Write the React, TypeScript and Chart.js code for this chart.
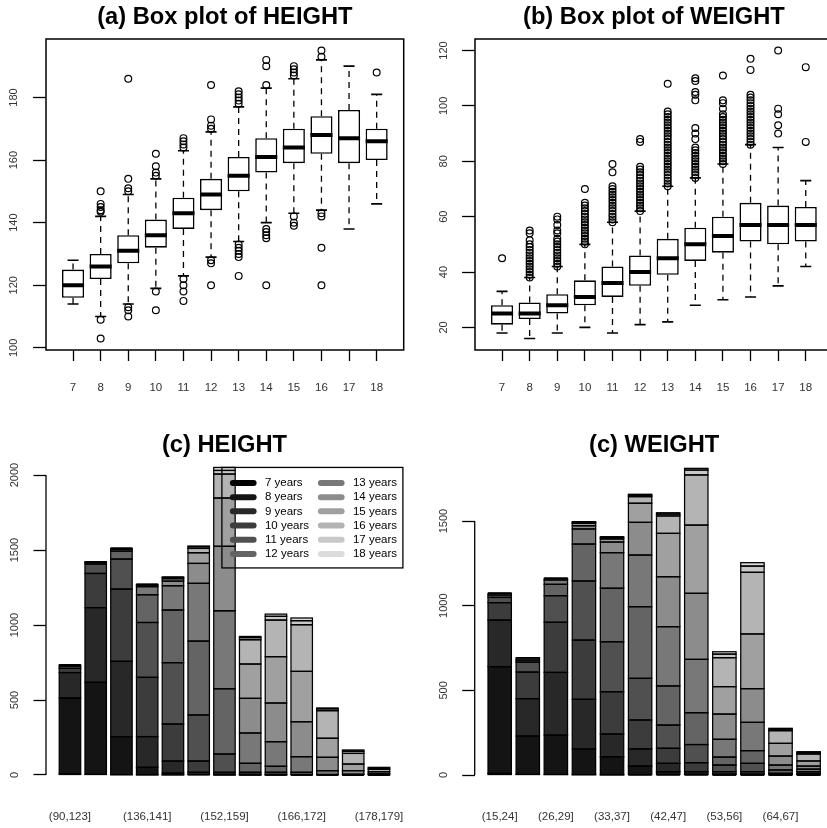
import React, { useEffect, useRef } from "react";
import { Chart, registerables } from "chart.js";

Chart.register(...registerables);

// ---------------- data ----------------
const AGES = ["7", "8", "9", "10", "11", "12", "13", "14", "15", "16", "17", "18"];
const AGE_LABELS = AGES.map((a) => `${a} years`);

// (a) HEIGHT box plot statistics by age
const H_LOW = [114, 110, 114, 119, 123, 129, 134, 140, 143, 144, 138, 146];
const H_Q1 = [116, 122, 127, 132, 138, 144, 150, 156, 159, 162, 159, 160];
const H_MED = [120, 126, 131, 136, 143, 149, 155, 161, 164, 168, 167, 166];
const H_Q3 = [125, 130, 136, 141, 148, 154, 161, 167, 170, 174, 176, 170];
const H_HIGH = [128, 142, 149, 154, 163, 169, 177, 183, 186, 192, 190, 181];
const H_OUTLIERS: number[][] = [
  [],
  [150, 146, 145, 144, 143.5, 109, 103],
  [186, 154, 151, 150, 113, 112, 110],
  [162, 158, 156, 155, 118, 112],
  [167, 166, 165, 164, 122, 120, 118, 115],
  [184, 173, 171, 170, 128, 127, 120],
  [182, 181, 180, 179, 178, 133, 132, 131, 130, 129, 123],
  [192, 190, 184, 138, 137, 136, 135, 120],
  [190, 189, 188, 187, 142, 140, 139],
  [195, 193, 143, 142, 132, 120],
  [],
  [188],
];

// (b) WEIGHT box plot statistics by age
const W_LOW = [18, 16, 18, 20, 18, 21, 22, 28, 30, 31, 35, 42];
const W_Q1 = [21, 23, 25, 28, 31, 35, 39, 44, 47, 51, 50, 51];
const W_MED = [25, 25, 28, 31, 36, 40, 45, 50, 53, 57, 57, 57];
const W_Q3 = [28, 29, 32, 37, 42, 46, 52, 56, 60, 65, 64, 63.5];
const W_HIGH = [33, 38, 42, 50, 58, 62, 71, 74, 79, 86, 85, 73];
const W_OUTLIERS: number[][] = [
  [45],
  [38, 39, 40, 41, 42, 43, 44, 45, 46, 47, 48, 49, 50, 51.5, 54, 55],
  [42, 43, 44, 45, 46, 47, 48, 49, 50, 51, 52, 54, 55, 57, 59, 60],
  [50, 51, 52, 53, 54, 55, 56, 57, 58, 59, 60, 61, 62, 63, 64, 65, 70],
  [58, 59, 60, 61, 62, 63, 64, 65, 66, 67, 68, 69, 70, 71, 76, 79],
  [62, 63, 64, 65, 66, 67, 68, 69, 70, 71, 72, 73, 74, 75, 76, 77, 78, 87, 88],
  [71, 72, 73, 74, 75, 76, 77, 78, 79, 80, 81, 82, 83, 84, 85, 86, 87, 88, 89, 90, 91, 92, 93, 94, 95, 96, 97, 98, 108],
  [74, 75, 76, 77, 78, 79, 80, 81, 82, 83, 84, 85, 88, 90, 92, 102, 104, 105, 109, 110],
  [79, 80, 81, 82, 83, 84, 85, 86, 87, 88, 89, 90, 91, 92, 93, 94, 95, 96, 97, 99, 101, 102, 111],
  [86, 87, 88, 89, 90, 91, 92, 93, 94, 95, 96, 97, 98, 99, 100, 101, 102, 103, 104, 113, 117],
  [90, 93, 97, 99, 120],
  [87, 114],
];

// (c) HEIGHT bins and counts by age
const HEIGHT_BINS = [
  "(90,123]", "(123,130]", "(130,136]", "(136,141]", "(141,146]", "(146,152]", "(152,159]",
  "(159,163]", "(163,166]", "(166,172]", "(172,175]", "(175,178]", "(178,179]",
];
const H_AGE7 = [8, 4, 2, 1, 1, 0, 0, 0, 0, 0, 0, 0, 0];
const H_AGE8 = [505, 614, 254, 50, 12, 3, 1, 0, 0, 0, 0, 0, 0];
const H_AGE9 = [170, 498, 502, 205, 80, 15, 3, 1, 1, 0, 0, 0, 0];
const H_AGE10 = [28, 228, 482, 395, 247, 75, 14, 3, 2, 0, 0, 0, 0];
const H_AGE11 = [15, 63, 200, 366, 409, 307, 122, 14, 15, 3, 0, 0, 0];
const H_AGE12 = [7, 10, 53, 185, 351, 493, 435, 60, 40, 15, 3, 0, 0];
const H_AGE13 = [0, 5, 12, 54, 162, 385, 520, 202, 164, 104, 26, 5, 2];
const H_AGE14 = [0, 0, 6, 10, 31, 133, 430, 231, 258, 233, 89, 24, 8];
const H_AGE15 = [0, 0, 0, 5, 16, 71, 322, 229, 309, 336, 127, 44, 12];
const H_AGE16 = [0, 0, 0, 0, 8, 29, 160, 162, 244, 311, 184, 71, 16];
const H_AGE17 = [0, 0, 0, 0, 3, 11, 24, 14, 25, 27, 12, 14, 8];
const H_AGE18 = [0, 0, 0, 0, 0, 5, 20, 8, 15, 18, 6, 9, 5];

// (c) WEIGHT bins and counts by age
const WEIGHT_BINS = [
  "(15,24]", "(24,26]", "(26,29]", "(29,33]", "(33,37]", "(37,42]",
  "(42,47]", "(47,53]", "(53,56]", "(56,64]", "(64,67]", "(67,120]",
];
const W_AGE7 = [10, 4, 3, 2, 1, 0, 0, 0, 0, 0, 0, 0];
const W_AGE8 = [630, 226, 233, 152, 107, 53, 20, 5, 0, 0, 0, 0];
const W_AGE9 = [275, 221, 370, 293, 134, 101, 49, 15, 5, 5, 0, 0];
const W_AGE10 = [103, 157, 296, 350, 250, 171, 89, 53, 15, 15, 3, 4];
const W_AGE11 = [31, 59, 157, 349, 295, 246, 137, 107, 39, 49, 7, 6];
const W_AGE12 = [14, 12, 67, 218, 316, 423, 231, 188, 47, 75, 20, 10];
const W_AGE13 = [10, 14, 26, 89, 210, 305, 350, 315, 105, 167, 29, 15];
const W_AGE14 = [0, 0, 9, 19, 63, 193, 295, 390, 149, 199, 53, 18];
const W_AGE15 = [0, 0, 0, 14, 18, 113, 256, 403, 162, 323, 75, 30];
const W_AGE16 = [0, 0, 0, 6, 8, 39, 103, 296, 171, 364, 75, 41];
const W_AGE17 = [0, 0, 0, 4, 5, 8, 11, 29, 21, 37, 9, 8];
const W_AGE18 = [0, 0, 0, 0, 0, 6, 8, 10, 14, 20, 5, 6];

const H_TICKS = [100, 120, 140, 160, 180];
const W_TICKS = [20, 40, 60, 80, 100, 120];
const HC_TICKS = [0, 500, 1000, 1500, 2000];
const WC_TICKS = [0, 500, 1000, 1500];

// ---------------- styles ----------------
const FONT = '"Liberation Sans", Arial, Helvetica, sans-serif';
const GREYS = [
  "#000000", "#141414", "#282828", "#3c3c3c", "#505050", "#646464",
  "#787878", "#8c8c8c", "#a0a0a0", "#b4b4b4", "#c8c8c8", "#dcdcdc",
];

const framePlugin = {
  id: "frameBox",
  afterDraw(chart: any) {
    const { ctx, chartArea: a } = chart;
    ctx.save();
    ctx.strokeStyle = "#000";
    ctx.lineWidth = 1.5;
    ctx.strokeRect(a.left, a.top, a.right - a.left, a.bottom - a.top);
    ctx.restore();
  },
};

const axisLinePlugin = {
  id: "axisLine",
  afterDraw(chart: any) {
    const { ctx, chartArea: a } = chart;
    const y = chart.scales.y;
    const t = y.ticks;
    ctx.save();
    ctx.strokeStyle = "#000";
    ctx.lineWidth = 1.3;
    ctx.beginPath();
    ctx.moveTo(a.left, y.getPixelForValue(t[0].value));
    ctx.lineTo(a.left, y.getPixelForValue(t[t.length - 1].value));
    ctx.stroke();
    ctx.restore();
  },
};

// outline every stacked segment (R style: border drawn even on very thin segments)
const outlinePlugin = {
  id: "segOutline",
  afterDatasetsDraw(chart: any) {
    const ctx = chart.ctx;
    ctx.save();
    ctx.strokeStyle = "#000";
    ctx.lineWidth = 1.25;
    chart.data.datasets.forEach((_d: any, di: number) => {
      const meta = chart.getDatasetMeta(di);
      meta.data.forEach((el: any) => {
        const { x, y, base, width } = el.getProps(["x", "y", "base", "width"], true);
        const top = Math.min(y, base);
        const h = Math.abs(base - y);
        ctx.strokeRect(x - width / 2, top, width, h);
      });
    });
    ctx.restore();
  },
};

const legendPlugin = {
  id: "ageLegend",
  afterDatasetsDraw(chart: any) {
    const { ctx, chartArea: a } = chart;
    const ds = chart.data.datasets;
    const n = ds[0].data.length;
    const totals: number[] = [];
    for (let i = 0; i < n; i++) {
      let s = 0;
      ds.forEach((d: any) => (s += d.data[i].y));
      totals.push(s);
    }
    const top = chart.scales.y.getPixelForValue(Math.max(...totals));
    const w = 181;
    const h = 100.5;
    const left = a.right - w;
    ctx.save();
    ctx.strokeStyle = "#000";
    ctx.lineWidth = 1.3;
    ctx.strokeRect(left, top, w, h);
    ctx.font = `11.5px ${FONT}`;
    ctx.textBaseline = "middle";
    ctx.textAlign = "left";
    ds.forEach((d: any, k: number) => {
      const col = Math.floor(k / 6);
      const row = k % 6;
      const y = top + 15.5 + row * 14.2;
      const sx = left + 11 + col * 88;
      ctx.lineCap = "round";
      ctx.lineWidth = 6;
      ctx.strokeStyle = d.backgroundColor;
      ctx.beginPath();
      ctx.moveTo(sx, y);
      ctx.lineTo(sx + 20.7, y);
      ctx.stroke();
      ctx.fillStyle = "#000";
      ctx.fillText(d.label, left + 43 + col * 88, y);
    });
    ctx.restore();
  },
};

function titleOpts(text: string, top: number, bottom: number) {
  return {
    display: true,
    text,
    fullSize: false,
    color: "#000",
    font: { family: FONT, size: 23.7, weight: "bold", lineHeight: "19px" },
    padding: { top, bottom },
  };
}

function boxDatasets(lo: number[], q1: number[], med: number[], q3: number[], hi: number[], outs: number[][]) {
  const xs = lo.map((_, i) => i + 1);
  const whisk: any[] = [];
  const caps: any[] = [];
  const meds: any[] = [];
  const pts: any[] = [];
  xs.forEach((x, i) => {
    whisk.push({ x, y: q3[i] }, { x, y: hi[i] }, { x, y: null }, { x, y: q1[i] }, { x, y: lo[i] }, { x, y: null });
    caps.push(
      { x: x - 0.2, y: hi[i] }, { x: x + 0.2, y: hi[i] }, { x, y: null },
      { x: x - 0.2, y: lo[i] }, { x: x + 0.2, y: lo[i] }, { x, y: null }
    );
    meds.push({ x: x - 0.4, y: med[i] }, { x: x + 0.4, y: med[i] }, { x, y: null });
    outs[i].forEach((v) => pts.push({ x, y: v }));
  });
  return [
    {
      type: "bar",
      data: xs.map((x, i) => ({ x, y: [q1[i], q3[i]] })),
      backgroundColor: "#ffffff",
      borderColor: "#000",
      borderWidth: 1.6,
      borderSkipped: false,
      barPercentage: 1,
      categoryPercentage: 0.8,
      order: 2,
    },
    { type: "line", data: whisk, borderColor: "#000", borderWidth: 1.3, borderDash: [6, 5], pointRadius: 0, spanGaps: false, fill: false, order: 4 },
    { type: "line", data: caps, borderColor: "#000", borderWidth: 1.6, pointRadius: 0, spanGaps: false, fill: false, order: 3 },
    { type: "line", data: meds, borderColor: "#000", borderWidth: 4, borderCapStyle: "butt", pointRadius: 0, spanGaps: false, fill: false, order: 1 },
    {
      type: "line",
      data: pts,
      showLine: false,
      pointRadius: 3.4,
      pointBorderWidth: 1.2,
      pointBorderColor: "#000",
      pointBackgroundColor: "rgba(0,0,0,0)",
      order: 0,
    },
  ];
}

const noPad = (s: any) => {
  s.paddingLeft = 0;
  s.paddingRight = 0;
};

function boxConfig(p: any): any {
  return {
    type: "bar",
    data: { datasets: boxDatasets(p.lo, p.q1, p.med, p.q3, p.hi, p.outs) },
    options: {
      responsive: false,
      animation: false,
      events: [],
      layout: { padding: { left: 0, top: 0, right: p.padRight, bottom: 0 } },
      plugins: {
        legend: { display: false },
        tooltip: { enabled: false },
        title: titleOpts(p.title, p.tTop, p.tBottom),
      },
      scales: {
        x: {
          type: "linear",
          min: 0.02,
          max: 12.98,
          offset: false,
          afterBuildTicks: (s: any) => {
            s.ticks = AGES.map((_, i) => ({ value: i + 1 }));
          },
          afterFit: (s: any) => {
            s.height = p.xHeight;
            noPad(s);
          },
          ticks: {
            autoSkip: false,
            minRotation: 0,
            maxRotation: 0,
            padding: 20.4,
            color: "#333",
            font: { family: FONT, size: 11.5 },
            callback: (_v: any, i: number) => AGES[i],
          },
          grid: { display: true, drawOnChartArea: false, drawTicks: true, tickLength: 11, tickColor: "#000", tickWidth: 1.3, offset: false },
          border: { display: false },
        },
        y: {
          type: "linear",
          min: p.yMin,
          max: p.yMax,
          beginAtZero: false,
          afterBuildTicks: (s: any) => {
            s.ticks = p.yTicks.map((v: number) => ({ value: v }));
          },
          afterFit: (s: any) => {
            s.width = p.yWidth;
          },
          ticks: {
            autoSkip: false,
            minRotation: 90,
            maxRotation: 90,
            crossAlign: "center",
            padding: p.yPad,
            color: "#333",
            font: { family: FONT, size: 11 },
            callback: (v: any) => String(v),
          },
          grid: { display: true, drawOnChartArea: false, drawTicks: true, tickLength: 13, tickColor: "#000", tickWidth: 1.3 },
          border: { display: false },
        },
      },
    },
    plugins: [framePlugin],
  };
}

function barConfig(p: any): any {
  const centers = p.bins.map((_: string, i: number) => 0.7 + 1.2 * i);
  const datasets = p.series.map((arr: number[], k: number) => ({
    type: "bar",
    label: AGE_LABELS[k],
    data: arr.map((v, i) => ({ x: centers[i], y: v })),
    backgroundColor: GREYS[k],
    borderWidth: 0,
    barPercentage: 1,
    categoryPercentage: 1 / 1.2,
  }));
  return {
    type: "bar",
    data: { datasets },
    options: {
      responsive: false,
      animation: false,
      events: [],
      layout: { padding: { left: 0, top: 0, right: p.padRight, bottom: 0 } },
      plugins: {
        legend: { display: false },
        tooltip: { enabled: false },
        title: titleOpts(p.title, p.tTop, p.tBottom),
      },
      scales: {
        x: {
          type: "linear",
          stacked: true,
          min: p.xMin,
          max: p.xMax,
          offset: false,
          afterBuildTicks: (s: any) => {
            s.ticks = centers.map((c: number) => ({ value: c }));
          },
          afterFit: (s: any) => {
            s.height = p.xHeight;
            noPad(s);
          },
          ticks: {
            autoSkip: false,
            minRotation: 0,
            maxRotation: 0,
            padding: p.xPad,
            color: "#333",
            font: { family: FONT, size: 11.5 },
            callback: (_v: any, i: number) => (i % p.every === 0 ? p.bins[i] : ""),
          },
          grid: { display: false, drawTicks: false, offset: false },
          border: { display: false },
        },
        y: {
          type: "linear",
          stacked: true,
          min: p.yMin,
          max: p.yMax,
          beginAtZero: false,
          afterBuildTicks: (s: any) => {
            s.ticks = p.yTicks.map((v: number) => ({ value: v }));
          },
          afterFit: (s: any) => {
            s.width = p.yWidth;
          },
          ticks: {
            autoSkip: false,
            minRotation: 90,
            maxRotation: 90,
            crossAlign: "center",
            padding: p.yPad,
            color: "#333",
            font: { family: FONT, size: 11 },
            callback: (v: any) => String(v),
          },
          grid: { display: true, drawOnChartArea: false, drawTicks: true, tickLength: 12.5, tickColor: "#000", tickWidth: 1.3 },
          border: { display: false },
        },
      },
    },
    plugins: p.legend ? [outlinePlugin, axisLinePlugin, legendPlugin] : [outlinePlugin, axisLinePlugin],
  };
}

export default function App() {
  const aRef = useRef<HTMLCanvasElement>(null);
  const bRef = useRef<HTMLCanvasElement>(null);
  const cRef = useRef<HTMLCanvasElement>(null);
  const dRef = useRef<HTMLCanvasElement>(null);

  useEffect(() => {
    const charts = [
      new Chart(
        aRef.current as HTMLCanvasElement,
        boxConfig({
          title: "(a) Box plot of HEIGHT",
          lo: H_LOW, q1: H_Q1, med: H_MED, q3: H_Q3, hi: H_HIGH, outs: H_OUTLIERS,
          yMin: 99.32, yMax: 198.68, yTicks: H_TICKS,
          padRight: 9.3, xHeight: 64, yWidth: 46, yPad: 10, tTop: 8, tBottom: 12,
        })
      ),
      new Chart(
        bRef.current as HTMLCanvasElement,
        boxConfig({
          title: "(b) Box plot of WEIGHT",
          lo: W_LOW, q1: W_Q1, med: W_MED, q3: W_Q3, hi: W_HIGH, outs: W_OUTLIERS,
          yMin: 11.84, yMax: 124.16, yTicks: W_TICKS,
          padRight: 10.2, xHeight: 64, yWidth: 62, yPad: 9.1, tTop: 8, tBottom: 12,
        })
      ),
      new Chart(
        cRef.current as HTMLCanvasElement,
        barConfig({
          title: "(c) HEIGHT",
          bins: HEIGHT_BINS,
          series: [H_AGE7, H_AGE8, H_AGE9, H_AGE10, H_AGE11, H_AGE12, H_AGE13, H_AGE14, H_AGE15, H_AGE16, H_AGE17, H_AGE18],
          every: 3,
          xMin: -0.416, xMax: 16.216,
          yMin: -103.4, yMax: 2133.9, yTicks: HC_TICKS,
          padRight: 10.1, xHeight: 37.5, xPad: 19.9, yWidth: 46, yPad: 6.6, tTop: 21.8, tBottom: 0.2,
          legend: true,
        })
      ),
      new Chart(
        dRef.current as HTMLCanvasElement,
        barConfig({
          title: "(c) WEIGHT",
          bins: WEIGHT_BINS,
          series: [W_AGE7, W_AGE8, W_AGE9, W_AGE10, W_AGE11, W_AGE12, W_AGE13, W_AGE14, W_AGE15, W_AGE16, W_AGE17, W_AGE18],
          every: 2,
          xMin: -0.368, xMax: 14.968,
          yMin: -91.3, yMax: 1884.2, yTicks: WC_TICKS,
          padRight: 9.4, xHeight: 37.5, xPad: 19.9, yWidth: 61.7, yPad: 6.1, tTop: 21.8, tBottom: 1.15,
          legend: false,
        })
      ),
    ];
    return () => charts.forEach((c) => c.destroy());
  }, []);

  const abs = (left: number, top: number, w: number, h: number): React.CSSProperties => ({
    position: "absolute",
    left,
    top,
    width: w,
    height: h,
    display: "block",
  });

  return (
    <div
      style={{
        position: "fixed",
        left: 0,
        top: 0,
        width: 827,
        height: 828,
        overflow: "hidden",
        background: "#ffffff",
      }}
    >
      <canvas ref={aRef} width={413} height={414} style={abs(0, 0, 413, 414)} />
      <canvas ref={bRef} width={430} height={414} style={abs(413, 0, 430, 414)} />
      <canvas ref={cRef} width={413} height={414} style={abs(0, 414, 413, 414)} />
      <canvas ref={dRef} width={430} height={414} style={abs(413, 414, 430, 414)} />
    </div>
  );
}
